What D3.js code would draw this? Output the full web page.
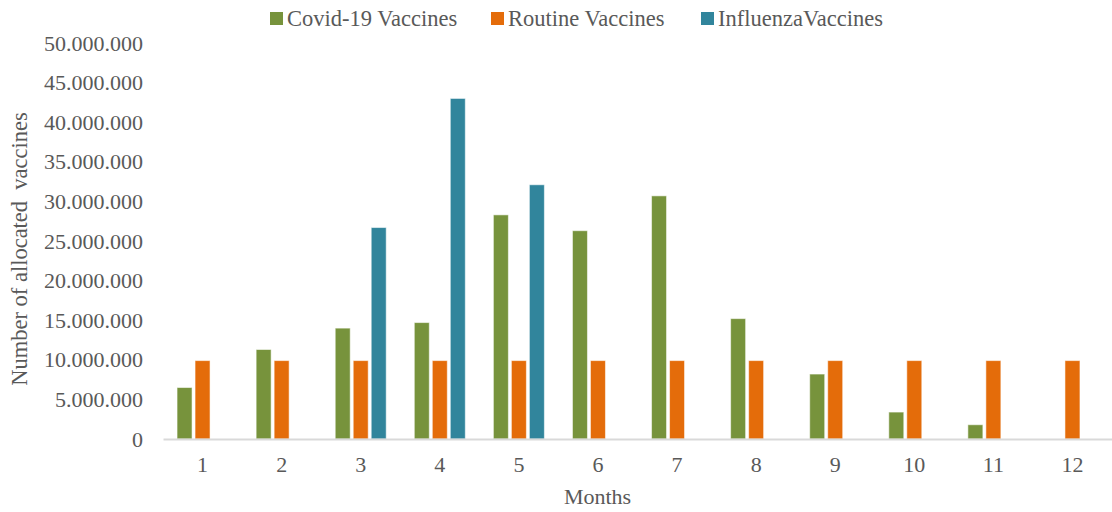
<!DOCTYPE html>
<html>
<head>
<meta charset="utf-8">
<script src="https://cdn.jsdelivr.net/npm/d3@7"></script>
<style>
  html, body { margin: 0; padding: 0; background: #ffffff; }
  svg { display: block; }
  text { font-family: "Liberation Serif", "Times New Roman", "DejaVu Serif", serif; fill: #595959; }
</style>
</head>
<body>
<svg id="chart" width="1112" height="512"></svg>
<script>
// Monthly allocation of vaccines by type
const months = ["1", "2", "3", "4", "5", "6", "7", "8", "9", "10", "11", "12"];
const seriesNames = ["Covid-19 Vaccines", "Routine Vaccines", "InfluenzaVaccines"];
const covidValues = [6500000, 11300000, 14000000, 14700000, 28300000, 26300000, 30700000, 15200000, 8200000, 3400000, 1800000, 0];
const routineValues = [9900000, 9900000, 9900000, 9900000, 9900000, 9900000, 9900000, 9900000, 9900000, 9900000, 9900000, 9900000];
const influenzaValues = [0, 0, 26700000, 43000000, 32100000, 0, 0, 0, 0, 0, 0, 0];
const yTicks = [0, 5000000, 10000000, 15000000, 20000000, 25000000, 30000000, 35000000, 40000000, 45000000, 50000000];
const seriesColors = ["#77933C", "#E46C0A", "#31859C"];

const seriesValues = [covidValues, routineValues, influenzaValues];
const rows = months.map((m, i) => ({
  month: m,
  values: seriesNames.map((s, k) => ({ series: s, value: seriesValues[k][i] }))
}));

const fontFamily = "'Liberation Serif', 'Times New Roman', 'DejaVu Serif', serif";
const svg = d3.select("#chart");
const plot = { left: 163, right: 1112, top: 43, bottom: 439 };

const x = d3.scaleBand().domain(months).range([plot.left, plot.right]).padding(0);
const groupWidth = 51;
const xInner = d3.scaleBand().domain(seriesNames).range([0, groupWidth]).paddingInner(1 / 6).paddingOuter(0);
const y = d3.scaleLinear().domain([0, 50000000]).range([plot.bottom, plot.top]);
const color = d3.scaleOrdinal().domain(seriesNames).range(seriesColors);

const fmt = v => d3.format(",")(v).replace(/,/g, ".");

// Y axis labels (no axis line, no gridlines)
const yAxis = d3.axisLeft(y).tickValues(yTicks).tickFormat(fmt).tickSize(0).tickPadding(20);
const yg = svg.append("g").attr("transform", `translate(${plot.left},0)`).call(yAxis);
yg.select(".domain").remove();
yg.selectAll("text").style("font-size", "22px").style("fill", "#595959")
  .style("font-family", fontFamily);

// Bars
const groups = svg.append("g").selectAll("g").data(rows).join("g")
  .attr("transform", d => `translate(${x(d.month) + x.bandwidth() / 2 - groupWidth / 2},0)`);
groups.selectAll("rect").data(d => d.values.filter(v => v.value > 0)).join("rect")
  .attr("x", d => xInner(d.series))
  .attr("y", d => y(d.value))
  .attr("width", xInner.bandwidth())
  .attr("height", d => y(0) - y(d.value))
  .attr("fill", d => color(d.series))
  .attr("stroke", "rgba(255,255,255,0.55)")
  .attr("stroke-width", 1);

// X axis
const xAxis = d3.axisBottom(x).tickSize(0).tickPadding(17);
const xg = svg.append("g").attr("transform", `translate(0,${plot.bottom})`).call(xAxis);
xg.select(".domain").attr("stroke", "#D9D9D9").attr("stroke-width", 2);
xg.selectAll("text").style("font-size", "22px").style("fill", "#595959")
  .style("font-family", fontFamily);

// Axis titles
svg.append("text")
  .attr("x", (plot.left + plot.right) / 2 - 40)
  .attr("y", 504)
  .attr("text-anchor", "middle")
  .style("font-size", "22px")
  .text("Months");

svg.append("text")
  .attr("transform", "translate(27,249) rotate(-90)")
  .attr("text-anchor", "middle")
  .style("font-size", "22.5px")
  .style("white-space", "pre")
  .text("Number of allocated\u00A0 vaccines");

// Legend
const legendItems = [
  { name: seriesNames[0], x: 270 },
  { name: seriesNames[1], x: 491 },
  { name: seriesNames[2], x: 701 }
];
const legend = svg.append("g").selectAll("g").data(legendItems).join("g")
  .attr("transform", d => `translate(${d.x},0)`);
legend.append("rect")
  .attr("x", 0).attr("y", 12).attr("width", 13).attr("height", 13)
  .attr("fill", d => color(d.name));
legend.append("text")
  .attr("x", 17).attr("y", 26)
  .style("font-size", "22.5px")
  .text(d => d.name);
</script>
</body>
</html>
